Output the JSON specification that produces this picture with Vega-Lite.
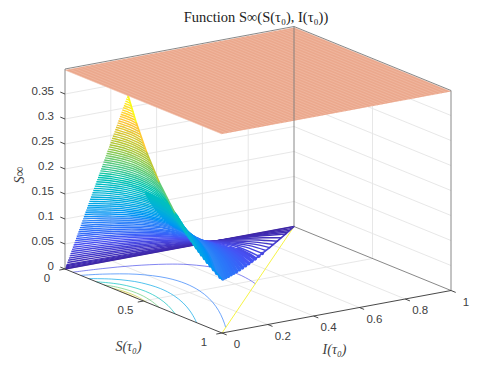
{"$schema":"https://vega.github.io/schema/vega-lite/v6.json","width":498,"height":374,"padding":0,"autosize":{"type":"none"},"config":{"view":{"stroke":null},"title":{"font":"Liberation Serif","fontSize":14.5,"fontWeight":"normal","color":"#222222"}},
"title":{"text":"Function S∞(S(τ₀), I(τ₀))","anchor":"middle","dx":7,"dy":29},
"datasets":{
"frame":[
{"k":"grid","S":0,"I":0,"z":0.05,"S2":0,"I2":1,"z2":0.05},{"k":"grid","S":0,"I":0,"z":0.1,"S2":0,"I2":1,"z2":0.1},{"k":"grid","S":0,"I":0,"z":0.15,"S2":0,"I2":1,"z2":0.15},{"k":"grid","S":0,"I":0,"z":0.2,"S2":0,"I2":1,"z2":0.2},{"k":"grid","S":0,"I":0,"z":0.25,"S2":0,"I2":1,"z2":0.25},{"k":"grid","S":0,"I":0,"z":0.3,"S2":0,"I2":1,"z2":0.3},{"k":"grid","S":0,"I":0,"z":0.35,"S2":0,"I2":1,"z2":0.35},
{"k":"grid","S":0,"I":1,"z":0.05,"S2":1,"I2":1,"z2":0.05},{"k":"grid","S":0,"I":1,"z":0.1,"S2":1,"I2":1,"z2":0.1},{"k":"grid","S":0,"I":1,"z":0.15,"S2":1,"I2":1,"z2":0.15},{"k":"grid","S":0,"I":1,"z":0.2,"S2":1,"I2":1,"z2":0.2},{"k":"grid","S":0,"I":1,"z":0.25,"S2":1,"I2":1,"z2":0.25},{"k":"grid","S":0,"I":1,"z":0.3,"S2":1,"I2":1,"z2":0.3},{"k":"grid","S":0,"I":1,"z":0.35,"S2":1,"I2":1,"z2":0.35},
{"k":"grid","S":0,"I":0.2,"z":0,"S2":0,"I2":0.2,"z2":0.4},{"k":"grid","S":0,"I":0.4,"z":0,"S2":0,"I2":0.4,"z2":0.4},{"k":"grid","S":0,"I":0.6,"z":0,"S2":0,"I2":0.6,"z2":0.4},{"k":"grid","S":0,"I":0.8,"z":0,"S2":0,"I2":0.8,"z2":0.4},{"k":"grid","S":0.5,"I":1,"z":0,"S2":0.5,"I2":1,"z2":0.4},
{"k":"grid","S":0,"I":0.2,"z":0,"S2":1,"I2":0.2,"z2":0},{"k":"grid","S":0,"I":0.4,"z":0,"S2":1,"I2":0.4,"z2":0},{"k":"grid","S":0,"I":0.6,"z":0,"S2":1,"I2":0.6,"z2":0},{"k":"grid","S":0,"I":0.8,"z":0,"S2":1,"I2":0.8,"z2":0},{"k":"grid","S":0.5,"I":0,"z":0,"S2":0.5,"I2":1,"z2":0},
{"k":"floorback","S":0,"I":0,"z":0,"S2":0,"I2":1,"z2":0},{"k":"floorback","S":0,"I":1,"z":0,"S2":1,"I2":1,"z2":0},
{"k":"yellow","S":1,"I":0,"z":0,"S2":0,"I2":1,"z2":0},
{"k":"box","S":0,"I":0,"z":0,"S2":0,"I2":0,"z2":0.4},{"k":"box","S":0,"I":1,"z":0,"S2":0,"I2":1,"z2":0.4},{"k":"box","S":1,"I":1,"z":0,"S2":1,"I2":1,"z2":0.4},
{"k":"box","S":0,"I":0,"z":0.4,"S2":0,"I2":1,"z2":0.4},{"k":"box","S":0,"I":1,"z":0.4,"S2":1,"I2":1,"z2":0.4},
{"k":"axis","S":0,"I":0,"z":0,"S2":1,"I2":0,"z2":0},{"k":"axis","S":1,"I":0,"z":0,"S2":1,"I2":1,"z2":0},
{"k":"axis","S":0,"I":0,"z":0,"S2":0,"I2":-0.025,"z2":0},{"k":"axis","S":0.5,"I":0,"z":0,"S2":0.5,"I2":-0.025,"z2":0},{"k":"axis","S":1,"I":0,"z":0,"S2":1,"I2":-0.025,"z2":0},
{"k":"axis","S":1,"I":0,"z":0,"S2":1.03,"I2":0,"z2":0},{"k":"axis","S":1,"I":0.2,"z":0,"S2":1.03,"I2":0.2,"z2":0},{"k":"axis","S":1,"I":0.4,"z":0,"S2":1.03,"I2":0.4,"z2":0},{"k":"axis","S":1,"I":0.6,"z":0,"S2":1.03,"I2":0.6,"z2":0},{"k":"axis","S":1,"I":0.8,"z":0,"S2":1.03,"I2":0.8,"z2":0},{"k":"axis","S":1,"I":1,"z":0,"S2":1.03,"I2":1,"z2":0},
{"k":"axis","S":0,"I":0,"z":0,"S2":-0.03,"I2":0,"z2":0},{"k":"axis","S":0,"I":0,"z":0.05,"S2":-0.03,"I2":0,"z2":0.05},{"k":"axis","S":0,"I":0,"z":0.1,"S2":-0.03,"I2":0,"z2":0.1},{"k":"axis","S":0,"I":0,"z":0.15,"S2":-0.03,"I2":0,"z2":0.15},{"k":"axis","S":0,"I":0,"z":0.2,"S2":-0.03,"I2":0,"z2":0.2},{"k":"axis","S":0,"I":0,"z":0.25,"S2":-0.03,"I2":0,"z2":0.25},{"k":"axis","S":0,"I":0,"z":0.3,"S2":-0.03,"I2":0,"z2":0.3},{"k":"axis","S":0,"I":0,"z":0.35,"S2":-0.03,"I2":0,"z2":0.35}
],
"edge":[
{"z":0.4,"S":0.4,"I":0,"z2":0.35,"S2":0.455,"I2":0},{"z":0.35,"S":0.455,"I":0,"z2":0.3,"S2":0.52,"I2":0},{"z":0.3,"S":0.52,"I":0,"z2":0.25,"S2":0.6,"I2":0},{"z":0.25,"S":0.6,"I":0,"z2":0.2,"S2":0.702,"I2":0},{"z":0.2,"S":0.702,"I":0,"z2":0.17,"S2":0.778,"I2":0},{"z":0.17,"S":0.778,"I":0,"z2":0.15,"S2":0.838,"I2":0},{"z":0.15,"S":0.838,"I":0,"z2":0.13,"S2":0.907,"I2":0},{"z":0.13,"S":0.907,"I":0,"z2":0.107,"S2":1,"I2":0},
{"z":0.107,"S":1,"I":0,"z2":0.1,"S2":0.9488,"I2":0.0512},{"z":0.1,"S":0.9488,"I":0.0512,"z2":0.09,"S2":0.875,"I2":0.125},{"z":0.09,"S":0.875,"I":0.125,"z2":0.08,"S2":0.798,"I2":0.202},{"z":0.08,"S":0.798,"I":0.202,"z2":0.07,"S2":0.716,"I2":0.284},{"z":0.07,"S":0.716,"I":0.284,"z2":0.06,"S2":0.629,"I2":0.371},{"z":0.06,"S":0.629,"I":0.371,"z2":0.05,"S2":0.5375,"I2":0.4625},{"z":0.05,"S":0.5375,"I":0.4625,"z2":0.04,"S2":0.441,"I2":0.559},{"z":0.04,"S":0.441,"I":0.559,"z2":0.03,"S2":0.339,"I2":0.661},{"z":0.03,"S":0.339,"I":0.661,"z2":0.02,"S2":0.2318,"I2":0.7682},{"z":0.02,"S":0.2318,"I":0.7682,"z2":0.01,"S2":0.1188,"I2":0.8812},{"z":0.01,"S":0.1188,"I":0.8812,"z2":0,"S2":0,"I2":1}
],
"planeEdge":[{"S":0,"I":0,"S2":0,"I2":0},{"S":0,"I":0.6856,"S2":1,"I2":0},{"S":0,"I":1,"S2":1,"I2":0.3144},{"S":1,"I":1,"S2":1,"I2":1}],
"plane":[{"I":0},{"I":0.02},{"I":0.04},{"I":0.06},{"I":0.08},{"I":0.1},{"I":0.12},{"I":0.14},{"I":0.16},{"I":0.18},{"I":0.2},{"I":0.22},{"I":0.24},{"I":0.26},{"I":0.28},{"I":0.3},{"I":0.32},{"I":0.34},{"I":0.36},{"I":0.38},{"I":0.4},{"I":0.42},{"I":0.44},{"I":0.46},{"I":0.48},{"I":0.5},{"I":0.52},{"I":0.54},{"I":0.56},{"I":0.58},{"I":0.6},{"I":0.62},{"I":0.64},{"I":0.66},{"I":0.68},{"I":0.7},{"I":0.72},{"I":0.74},{"I":0.76},{"I":0.78},{"I":0.8},{"I":0.82},{"I":0.84},{"I":0.86},{"I":0.88},{"I":0.9},{"I":0.92},{"I":0.94},{"I":0.96},{"I":0.98},{"I":1}],
"floor":[
{"L":0.05,"S":0.05,"I":0},{"L":0.05,"S":0.07,"I":0.1146},{"L":0.05,"S":0.1,"I":0.2273},{"L":0.05,"S":0.15,"I":0.3395},{"L":0.05,"S":0.2,"I":0.4045},{"L":0.05,"S":0.3,"I":0.4667},{"L":0.05,"S":0.4,"I":0.4818},{"L":0.05,"S":0.5,"I":0.471},{"L":0.05,"S":0.5375,"I":0.4625},
{"L":0.1,"S":0.1,"I":0},{"L":0.1,"S":0.13,"I":0.075},{"L":0.1,"S":0.2,"I":0.1772},{"L":0.1,"S":0.3,"I":0.2394},{"L":0.1,"S":0.4,"I":0.2545},{"L":0.1,"S":0.5,"I":0.2437},{"L":0.1,"S":0.6,"I":0.2167},{"L":0.1,"S":0.7,"I":0.1783},{"L":0.1,"S":0.8,"I":0.1317},{"L":0.1,"S":0.9,"I":0.0789},{"L":0.1,"S":0.9488,"I":0.0512},
{"L":0.15,"S":0.15,"I":0},{"L":0.15,"S":0.2,"I":0.065},{"L":0.15,"S":0.25,"I":0.1043},{"L":0.15,"S":0.3,"I":0.1272},{"L":0.15,"S":0.4,"I":0.1423},{"L":0.15,"S":0.5,"I":0.1315},{"L":0.15,"S":0.6,"I":0.1045},{"L":0.15,"S":0.7,"I":0.0661},{"L":0.15,"S":0.8,"I":0.0195},{"L":0.15,"S":0.838,"I":0},
{"L":0.2,"S":0.2,"I":0},{"L":0.2,"S":0.25,"I":0.0393},{"L":0.2,"S":0.3,"I":0.0622},{"L":0.2,"S":0.4,"I":0.0773},{"L":0.2,"S":0.5,"I":0.0665},{"L":0.2,"S":0.6,"I":0.0395},{"L":0.2,"S":0.702,"I":0},
{"L":0.25,"S":0.25,"I":0},{"L":0.25,"S":0.3,"I":0.0229},{"L":0.25,"S":0.4,"I":0.038},{"L":0.25,"S":0.5,"I":0.0272},{"L":0.25,"S":0.6,"I":0},
{"L":0.3,"S":0.3,"I":0},{"L":0.3,"S":0.35,"I":0.0117},{"L":0.3,"S":0.4,"I":0.0151},{"L":0.3,"S":0.45,"I":0.0122},{"L":0.3,"S":0.52,"I":0},
{"L":0.35,"S":0.35,"I":0},{"L":0.35,"S":0.4,"I":0.0034},{"L":0.35,"S":0.455,"I":0}
],
"surface":[
{"L":0,"S":0,"I":0},{"L":0,"S":0,"I":1},
{"L":0.0025,"S":0.0025,"I":0},{"L":0.0025,"S":0.01,"I":0.547},{"L":0.0025,"S":0.02,"I":0.8143},{"L":0.0025,"S":0.03,"I":0.9665},
{"L":0.005,"S":0.005,"I":0},{"L":0.005,"S":0.01,"I":0.2722},{"L":0.005,"S":0.02,"I":0.5395},{"L":0.005,"S":0.04,"I":0.7967},{"L":0.005,"S":0.06,"I":0.939},
{"L":0.0075,"S":0.0075,"I":0},{"L":0.0075,"S":0.01,"I":0.1126},{"L":0.0075,"S":0.02,"I":0.3799},{"L":0.0075,"S":0.04,"I":0.6371},{"L":0.0075,"S":0.06,"I":0.7794},{"L":0.0075,"S":0.0896,"I":0.9104},
{"L":0.01,"S":0.01,"I":0},{"L":0.01,"S":0.02,"I":0.2673},{"L":0.01,"S":0.03,"I":0.4195},{"L":0.01,"S":0.05,"I":0.6038},{"L":0.01,"S":0.07,"I":0.7184},{"L":0.01,"S":0.09,"I":0.7989},{"L":0.01,"S":0.11,"I":0.8592},{"L":0.01,"S":0.1188,"I":0.8812},
{"L":0.015,"S":0.015,"I":0},{"L":0.015,"S":0.02,"I":0.1101},{"L":0.015,"S":0.03,"I":0.2623},{"L":0.015,"S":0.05,"I":0.4466},{"L":0.015,"S":0.07,"I":0.5612},{"L":0.015,"S":0.1,"I":0.6739},{"L":0.015,"S":0.14,"I":0.7684},{"L":0.015,"S":0.176,"I":0.824},
{"L":0.02,"S":0.02,"I":0},{"L":0.02,"S":0.03,"I":0.1522},{"L":0.02,"S":0.05,"I":0.3365},{"L":0.02,"S":0.07,"I":0.4511},{"L":0.02,"S":0.1,"I":0.5638},{"L":0.02,"S":0.14,"I":0.6583},{"L":0.02,"S":0.18,"I":0.7189},{"L":0.02,"S":0.2318,"I":0.7682},
{"L":0.025,"S":0.025,"I":0},{"L":0.025,"S":0.03,"I":0.068},{"L":0.025,"S":0.05,"I":0.2523},{"L":0.025,"S":0.07,"I":0.3669},{"L":0.025,"S":0.1,"I":0.4796},{"L":0.025,"S":0.14,"I":0.5741},{"L":0.025,"S":0.2,"I":0.6568},{"L":0.025,"S":0.286,"I":0.714},
{"L":0.03,"S":0.03,"I":0},{"L":0.03,"S":0.05,"I":0.1843},{"L":0.03,"S":0.07,"I":0.2989},{"L":0.03,"S":0.1,"I":0.4116},{"L":0.03,"S":0.14,"I":0.5061},{"L":0.03,"S":0.2,"I":0.5888},{"L":0.03,"S":0.27,"I":0.6389},{"L":0.03,"S":0.339,"I":0.661},
{"L":0.035,"S":0.035,"I":0},{"L":0.035,"S":0.05,"I":0.1277},{"L":0.035,"S":0.07,"I":0.2423},{"L":0.035,"S":0.1,"I":0.355},{"L":0.035,"S":0.14,"I":0.4495},{"L":0.035,"S":0.2,"I":0.5322},{"L":0.035,"S":0.3,"I":0.5944},{"L":0.035,"S":0.39,"I":0.61},
{"L":0.04,"S":0.04,"I":0},{"L":0.04,"S":0.06,"I":0.1423},{"L":0.04,"S":0.08,"I":0.2373},{"L":0.04,"S":0.12,"I":0.3595},{"L":0.04,"S":0.17,"I":0.4488},{"L":0.04,"S":0.25,"I":0.5231},{"L":0.04,"S":0.34,"I":0.5561},{"L":0.04,"S":0.441,"I":0.559},
{"L":0.045,"S":0.045,"I":0},{"L":0.045,"S":0.06,"I":0.1001},{"L":0.045,"S":0.08,"I":0.1951},{"L":0.045,"S":0.12,"I":0.3173},{"L":0.045,"S":0.17,"I":0.4066},{"L":0.045,"S":0.25,"I":0.4809},{"L":0.045,"S":0.35,"I":0.5155},{"L":0.045,"S":0.49,"I":0.51},
{"L":0.05,"S":0.05,"I":0},{"L":0.05,"S":0.07,"I":0.1146},{"L":0.05,"S":0.1,"I":0.2273},{"L":0.05,"S":0.15,"I":0.3395},{"L":0.05,"S":0.2,"I":0.4045},{"L":0.05,"S":0.3,"I":0.4667},{"L":0.05,"S":0.4,"I":0.4818},{"L":0.05,"S":0.5,"I":0.471},{"L":0.05,"S":0.5375,"I":0.4625},
{"L":0.055,"S":0.055,"I":0},{"L":0.055,"S":0.07,"I":0.0815},{"L":0.055,"S":0.1,"I":0.1942},{"L":0.055,"S":0.15,"I":0.3064},{"L":0.055,"S":0.22,"I":0.3895},{"L":0.055,"S":0.3,"I":0.4336},{"L":0.055,"S":0.4,"I":0.4487},{"L":0.055,"S":0.5,"I":0.4379},{"L":0.055,"S":0.584,"I":0.416},
{"L":0.06,"S":0.06,"I":0},{"L":0.06,"S":0.08,"I":0.095},{"L":0.06,"S":0.11,"I":0.1924},{"L":0.06,"S":0.16,"I":0.2923},{"L":0.06,"S":0.22,"I":0.3596},{"L":0.06,"S":0.3,"I":0.4037},{"L":0.06,"S":0.4,"I":0.4188},{"L":0.06,"S":0.5,"I":0.408},{"L":0.06,"S":0.629,"I":0.371},
{"L":0.065,"S":0.065,"I":0},{"L":0.065,"S":0.08,"I":0.0681},{"L":0.065,"S":0.11,"I":0.1655},{"L":0.065,"S":0.16,"I":0.2654},{"L":0.065,"S":0.24,"I":0.3476},{"L":0.065,"S":0.32,"I":0.3826},{"L":0.065,"S":0.4,"I":0.3919},{"L":0.065,"S":0.5,"I":0.3811},{"L":0.065,"S":0.6,"I":0.3541},{"L":0.065,"S":0.673,"I":0.327},
{"L":0.07,"S":0.07,"I":0},{"L":0.07,"S":0.09,"I":0.0805},{"L":0.07,"S":0.12,"I":0.1656},{"L":0.07,"S":0.17,"I":0.2549},{"L":0.07,"S":0.24,"I":0.3229},{"L":0.07,"S":0.32,"I":0.3579},{"L":0.07,"S":0.4,"I":0.3672},{"L":0.07,"S":0.5,"I":0.3564},{"L":0.07,"S":0.6,"I":0.3294},{"L":0.07,"S":0.716,"I":0.284},
{"L":0.075,"S":0.075,"I":0},{"L":0.075,"S":0.09,"I":0.0579},{"L":0.075,"S":0.12,"I":0.143},{"L":0.075,"S":0.17,"I":0.2323},{"L":0.075,"S":0.25,"I":0.3066},{"L":0.075,"S":0.32,"I":0.3353},{"L":0.075,"S":0.4,"I":0.3446},{"L":0.075,"S":0.5,"I":0.3338},{"L":0.075,"S":0.6,"I":0.3068},{"L":0.075,"S":0.7,"I":0.2684},{"L":0.075,"S":0.7575,"I":0.2425},
{"L":0.08,"S":0.08,"I":0},{"L":0.08,"S":0.1,"I":0.0693},{"L":0.08,"S":0.13,"I":0.1442},{"L":0.08,"S":0.18,"I":0.2244},{"L":0.08,"S":0.25,"I":0.2858},{"L":0.08,"S":0.32,"I":0.3145},{"L":0.08,"S":0.4,"I":0.3238},{"L":0.08,"S":0.5,"I":0.313},{"L":0.08,"S":0.6,"I":0.286},{"L":0.08,"S":0.7,"I":0.2476},{"L":0.08,"S":0.798,"I":0.202},
{"L":0.085,"S":0.085,"I":0},{"L":0.085,"S":0.1,"I":0.05},{"L":0.085,"S":0.13,"I":0.1249},{"L":0.085,"S":0.18,"I":0.2051},{"L":0.085,"S":0.28,"I":0.2818},{"L":0.085,"S":0.4,"I":0.3045},{"L":0.085,"S":0.5,"I":0.2937},{"L":0.085,"S":0.6,"I":0.2667},{"L":0.085,"S":0.7,"I":0.2283},{"L":0.085,"S":0.8,"I":0.1817},{"L":0.085,"S":0.837,"I":0.163},
{"L":0.09,"S":0.09,"I":0},{"L":0.09,"S":0.11,"I":0.0603},{"L":0.09,"S":0.14,"I":0.1267},{"L":0.09,"S":0.2,"I":0.2094},{"L":0.09,"S":0.28,"I":0.264},{"L":0.09,"S":0.4,"I":0.2867},{"L":0.09,"S":0.5,"I":0.2759},{"L":0.09,"S":0.6,"I":0.2489},{"L":0.09,"S":0.7,"I":0.2105},{"L":0.09,"S":0.8,"I":0.1639},{"L":0.09,"S":0.875,"I":0.125},
{"L":0.095,"S":0.095,"I":0},{"L":0.095,"S":0.11,"I":0.0437},{"L":0.095,"S":0.14,"I":0.1101},{"L":0.095,"S":0.2,"I":0.1928},{"L":0.095,"S":0.28,"I":0.2515},{"L":0.095,"S":0.4,"I":0.2701},{"L":0.095,"S":0.5,"I":0.2593},{"L":0.095,"S":0.6,"I":0.2323},{"L":0.095,"S":0.7,"I":0.1939},{"L":0.095,"S":0.8,"I":0.1473},{"L":0.095,"S":0.913,"I":0.087},
{"L":0.1,"S":0.1,"I":0},{"L":0.1,"S":0.12,"I":0.0529},{"L":0.1,"S":0.15,"I":0.1122},{"L":0.1,"S":0.2,"I":0.1772},{"L":0.1,"S":0.28,"I":0.2318},{"L":0.1,"S":0.4,"I":0.2545},{"L":0.1,"S":0.5,"I":0.2437},{"L":0.1,"S":0.6,"I":0.2167},{"L":0.1,"S":0.7,"I":0.1783},{"L":0.1,"S":0.8,"I":0.1317},{"L":0.1,"S":0.9,"I":0.0789},{"L":0.1,"S":0.9488,"I":0.0512},
{"L":0.105,"S":0.105,"I":0},{"L":0.105,"S":0.12,"I":0.0384},{"L":0.105,"S":0.15,"I":0.0977},{"L":0.105,"S":0.2,"I":0.1627},{"L":0.105,"S":0.28,"I":0.2173},{"L":0.105,"S":0.4,"I":0.24},{"L":0.105,"S":0.5,"I":0.2292},{"L":0.105,"S":0.6,"I":0.2022},{"L":0.105,"S":0.7,"I":0.1638},{"L":0.105,"S":0.8,"I":0.1172},{"L":0.105,"S":0.9,"I":0.0644},{"L":0.105,"S":0.984,"I":0.016},
{"L":0.11,"S":0.11,"I":0},{"L":0.11,"S":0.13,"I":0.0468},{"L":0.11,"S":0.16,"I":0.0999},{"L":0.11,"S":0.21,"I":0.1586},{"L":0.11,"S":0.28,"I":0.2037},{"L":0.11,"S":0.4,"I":0.2264},{"L":0.11,"S":0.5,"I":0.2156},{"L":0.11,"S":0.6,"I":0.1886},{"L":0.11,"S":0.7,"I":0.1502},{"L":0.11,"S":0.8,"I":0.1036},{"L":0.11,"S":0.9,"I":0.0508},{"L":0.11,"S":0.988,"I":0},
{"L":0.115,"S":0.115,"I":0},{"L":0.115,"S":0.13,"I":0.034},{"L":0.115,"S":0.16,"I":0.0871},{"L":0.115,"S":0.21,"I":0.1458},{"L":0.115,"S":0.3,"I":0.1985},{"L":0.115,"S":0.4,"I":0.2136},{"L":0.115,"S":0.5,"I":0.2028},{"L":0.115,"S":0.6,"I":0.1758},{"L":0.115,"S":0.7,"I":0.1374},{"L":0.115,"S":0.8,"I":0.0908},{"L":0.115,"S":0.9,"I":0.038},{"L":0.115,"S":0.966,"I":0},
{"L":0.12,"S":0.12,"I":0},{"L":0.12,"S":0.14,"I":0.0416},{"L":0.12,"S":0.17,"I":0.0893},{"L":0.12,"S":0.22,"I":0.1424},{"L":0.12,"S":0.3,"I":0.1865},{"L":0.12,"S":0.4,"I":0.2016},{"L":0.12,"S":0.5,"I":0.1908},{"L":0.12,"S":0.6,"I":0.1638},{"L":0.12,"S":0.7,"I":0.1254},{"L":0.12,"S":0.8,"I":0.0788},{"L":0.12,"S":0.9,"I":0.026},{"L":0.12,"S":0.946,"I":0},
{"L":0.125,"S":0.125,"I":0},{"L":0.125,"S":0.14,"I":0.0303},{"L":0.125,"S":0.17,"I":0.078},{"L":0.125,"S":0.22,"I":0.1311},{"L":0.125,"S":0.3,"I":0.1752},{"L":0.125,"S":0.4,"I":0.1903},{"L":0.125,"S":0.5,"I":0.1795},{"L":0.125,"S":0.6,"I":0.1525},{"L":0.125,"S":0.7,"I":0.1141},{"L":0.125,"S":0.8,"I":0.0675},{"L":0.125,"S":0.9,"I":0.0147},{"L":0.125,"S":0.926,"I":0},
{"L":0.13,"S":0.13,"I":0},{"L":0.13,"S":0.15,"I":0.0373},{"L":0.13,"S":0.18,"I":0.0802},{"L":0.13,"S":0.23,"I":0.1282},{"L":0.13,"S":0.3,"I":0.1645},{"L":0.13,"S":0.4,"I":0.1796},{"L":0.13,"S":0.5,"I":0.1688},{"L":0.13,"S":0.6,"I":0.1418},{"L":0.13,"S":0.7,"I":0.1034},{"L":0.13,"S":0.8,"I":0.0568},{"L":0.13,"S":0.907,"I":0},
{"L":0.135,"S":0.135,"I":0},{"L":0.135,"S":0.15,"I":0.0272},{"L":0.135,"S":0.18,"I":0.0701},{"L":0.135,"S":0.23,"I":0.1181},{"L":0.135,"S":0.31,"I":0.1575},{"L":0.135,"S":0.4,"I":0.1695},{"L":0.135,"S":0.5,"I":0.1587},{"L":0.135,"S":0.6,"I":0.1317},{"L":0.135,"S":0.7,"I":0.0933},{"L":0.135,"S":0.8,"I":0.0467},{"L":0.135,"S":0.889,"I":0},
{"L":0.14,"S":0.14,"I":0},{"L":0.14,"S":0.16,"I":0.0335},{"L":0.14,"S":0.19,"I":0.0722},{"L":0.14,"S":0.24,"I":0.1157},{"L":0.14,"S":0.31,"I":0.148},{"L":0.14,"S":0.4,"I":0.16},{"L":0.14,"S":0.5,"I":0.1492},{"L":0.14,"S":0.6,"I":0.1222},{"L":0.14,"S":0.7,"I":0.0838},{"L":0.14,"S":0.8,"I":0.0372},{"L":0.14,"S":0.871,"I":0},
{"L":0.145,"S":0.145,"I":0},{"L":0.145,"S":0.16,"I":0.0244},{"L":0.145,"S":0.19,"I":0.0631},{"L":0.145,"S":0.24,"I":0.1066},{"L":0.145,"S":0.31,"I":0.1389},{"L":0.145,"S":0.4,"I":0.1509},{"L":0.145,"S":0.5,"I":0.1401},{"L":0.145,"S":0.6,"I":0.1131},{"L":0.145,"S":0.7,"I":0.0747},{"L":0.145,"S":0.8,"I":0.0281},{"L":0.145,"S":0.854,"I":0},
{"L":0.15,"S":0.15,"I":0},{"L":0.15,"S":0.17,"I":0.03},{"L":0.15,"S":0.2,"I":0.065},{"L":0.15,"S":0.25,"I":0.1043},{"L":0.15,"S":0.32,"I":0.133},{"L":0.15,"S":0.4,"I":0.1423},{"L":0.15,"S":0.5,"I":0.1315},{"L":0.15,"S":0.6,"I":0.1045},{"L":0.15,"S":0.7,"I":0.0661},{"L":0.15,"S":0.8,"I":0.0195},{"L":0.15,"S":0.838,"I":0},
{"L":0.155,"S":0.155,"I":0},{"L":0.155,"S":0.17,"I":0.0219},{"L":0.155,"S":0.2,"I":0.0569},{"L":0.155,"S":0.25,"I":0.0962},{"L":0.155,"S":0.32,"I":0.1249},{"L":0.155,"S":0.4,"I":0.1342},{"L":0.155,"S":0.5,"I":0.1234},{"L":0.155,"S":0.6,"I":0.0964},{"L":0.155,"S":0.7,"I":0.058},{"L":0.155,"S":0.8,"I":0.0114},{"L":0.155,"S":0.822,"I":0},
{"L":0.16,"S":0.16,"I":0},{"L":0.16,"S":0.18,"I":0.0271},{"L":0.16,"S":0.21,"I":0.0587},{"L":0.16,"S":0.26,"I":0.0942},{"L":0.16,"S":0.33,"I":0.1195},{"L":0.16,"S":0.4,"I":0.1265},{"L":0.16,"S":0.5,"I":0.1157},{"L":0.16,"S":0.6,"I":0.0887},{"L":0.16,"S":0.7,"I":0.0503},{"L":0.16,"S":0.807,"I":0},
{"L":0.165,"S":0.165,"I":0},{"L":0.165,"S":0.18,"I":0.0198},{"L":0.165,"S":0.21,"I":0.0514},{"L":0.165,"S":0.26,"I":0.0869},{"L":0.165,"S":0.33,"I":0.1122},{"L":0.165,"S":0.4,"I":0.1192},{"L":0.165,"S":0.5,"I":0.1084},{"L":0.165,"S":0.6,"I":0.0814},{"L":0.165,"S":0.7,"I":0.043},{"L":0.165,"S":0.793,"I":0},
{"L":0.17,"S":0.17,"I":0},{"L":0.17,"S":0.19,"I":0.0245},{"L":0.17,"S":0.22,"I":0.0531},{"L":0.17,"S":0.27,"I":0.0851},{"L":0.17,"S":0.34,"I":0.1073},{"L":0.17,"S":0.4,"I":0.1123},{"L":0.17,"S":0.5,"I":0.1015},{"L":0.17,"S":0.6,"I":0.0745},{"L":0.17,"S":0.7,"I":0.0361},{"L":0.17,"S":0.778,"I":0},
{"L":0.175,"S":0.175,"I":0},{"L":0.175,"S":0.19,"I":0.0179},{"L":0.175,"S":0.22,"I":0.0465},{"L":0.175,"S":0.27,"I":0.0785},{"L":0.175,"S":0.34,"I":0.1007},{"L":0.175,"S":0.4,"I":0.1057},{"L":0.175,"S":0.5,"I":0.0949},{"L":0.175,"S":0.6,"I":0.0679},{"L":0.175,"S":0.7,"I":0.0295},{"L":0.175,"S":0.765,"I":0},
{"L":0.18,"S":0.18,"I":0},{"L":0.18,"S":0.2,"I":0.0221},{"L":0.18,"S":0.23,"I":0.048},{"L":0.18,"S":0.28,"I":0.0767},{"L":0.18,"S":0.34,"I":0.0944},{"L":0.18,"S":0.4,"I":0.0994},{"L":0.18,"S":0.5,"I":0.0886},{"L":0.18,"S":0.6,"I":0.0616},{"L":0.18,"S":0.7,"I":0.0232},{"L":0.18,"S":0.75,"I":0},
{"L":0.185,"S":0.185,"I":0},{"L":0.185,"S":0.2,"I":0.0162},{"L":0.185,"S":0.23,"I":0.0421},{"L":0.185,"S":0.28,"I":0.0708},{"L":0.185,"S":0.35,"I":0.0901},{"L":0.185,"S":0.4,"I":0.0935},{"L":0.185,"S":0.5,"I":0.0827},{"L":0.185,"S":0.6,"I":0.0557},{"L":0.185,"S":0.7,"I":0.0173},{"L":0.185,"S":0.739,"I":0},
{"L":0.19,"S":0.19,"I":0},{"L":0.19,"S":0.21,"I":0.02},{"L":0.19,"S":0.24,"I":0.0435},{"L":0.19,"S":0.29,"I":0.0692},{"L":0.19,"S":0.35,"I":0.0844},{"L":0.19,"S":0.4,"I":0.0878},{"L":0.19,"S":0.5,"I":0.077},{"L":0.19,"S":0.6,"I":0.05},{"L":0.19,"S":0.7,"I":0.0116},{"L":0.19,"S":0.726,"I":0},
{"L":0.195,"S":0.195,"I":0},{"L":0.195,"S":0.21,"I":0.0146},{"L":0.195,"S":0.24,"I":0.0381},{"L":0.195,"S":0.29,"I":0.0638},{"L":0.195,"S":0.35,"I":0.079},{"L":0.195,"S":0.4,"I":0.0824},{"L":0.195,"S":0.5,"I":0.0716},{"L":0.195,"S":0.6,"I":0.0446},{"L":0.195,"S":0.7,"I":0.0062},{"L":0.195,"S":0.714,"I":0},
{"L":0.2,"S":0.2,"I":0},{"L":0.2,"S":0.22,"I":0.0181},{"L":0.2,"S":0.25,"I":0.0393},{"L":0.2,"S":0.3,"I":0.0622},{"L":0.2,"S":0.35,"I":0.0739},{"L":0.2,"S":0.4,"I":0.0773},{"L":0.2,"S":0.5,"I":0.0665},{"L":0.2,"S":0.6,"I":0.0395},{"L":0.2,"S":0.702,"I":0},
{"L":0.205,"S":0.205,"I":0},{"L":0.205,"S":0.22,"I":0.0132},{"L":0.205,"S":0.25,"I":0.0344},{"L":0.205,"S":0.3,"I":0.0573},{"L":0.205,"S":0.35,"I":0.069},{"L":0.205,"S":0.4,"I":0.0724},{"L":0.205,"S":0.5,"I":0.0616},{"L":0.205,"S":0.6,"I":0.0346},{"L":0.205,"S":0.691,"I":0},
{"L":0.21,"S":0.21,"I":0},{"L":0.21,"S":0.23,"I":0.0164},{"L":0.21,"S":0.26,"I":0.0355},{"L":0.21,"S":0.3,"I":0.0527},{"L":0.21,"S":0.35,"I":0.0644},{"L":0.21,"S":0.4,"I":0.0678},{"L":0.21,"S":0.5,"I":0.057},{"L":0.21,"S":0.6,"I":0.03},{"L":0.21,"S":0.68,"I":0},
{"L":0.215,"S":0.215,"I":0},{"L":0.215,"S":0.23,"I":0.0119},{"L":0.215,"S":0.26,"I":0.031},{"L":0.215,"S":0.3,"I":0.0482},{"L":0.215,"S":0.35,"I":0.0599},{"L":0.215,"S":0.4,"I":0.0633},{"L":0.215,"S":0.5,"I":0.0525},{"L":0.215,"S":0.6,"I":0.0255},{"L":0.215,"S":0.668,"I":0},
{"L":0.22,"S":0.22,"I":0},{"L":0.22,"S":0.24,"I":0.0149},{"L":0.22,"S":0.27,"I":0.032},{"L":0.22,"S":0.32,"I":0.0499},{"L":0.22,"S":0.4,"I":0.0592},{"L":0.22,"S":0.5,"I":0.0484},{"L":0.22,"S":0.6,"I":0.0214},{"L":0.22,"S":0.659,"I":0},
{"L":0.225,"S":0.225,"I":0},{"L":0.225,"S":0.24,"I":0.0109},{"L":0.225,"S":0.27,"I":0.028},{"L":0.225,"S":0.32,"I":0.0459},{"L":0.225,"S":0.4,"I":0.0552},{"L":0.225,"S":0.5,"I":0.0444},{"L":0.225,"S":0.6,"I":0.0174},{"L":0.225,"S":0.648,"I":0},
{"L":0.23,"S":0.23,"I":0},{"L":0.23,"S":0.25,"I":0.0134},{"L":0.23,"S":0.28,"I":0.0287},{"L":0.23,"S":0.33,"I":0.0444},{"L":0.23,"S":0.4,"I":0.0514},{"L":0.23,"S":0.5,"I":0.0406},{"L":0.23,"S":0.6,"I":0.0136},{"L":0.23,"S":0.638,"I":0},
{"L":0.235,"S":0.235,"I":0},{"L":0.235,"S":0.25,"I":0.0098},{"L":0.235,"S":0.28,"I":0.0251},{"L":0.235,"S":0.33,"I":0.0408},{"L":0.235,"S":0.4,"I":0.0478},{"L":0.235,"S":0.5,"I":0.037},{"L":0.235,"S":0.6,"I":0.01},{"L":0.235,"S":0.628,"I":0},
{"L":0.24,"S":0.24,"I":0},{"L":0.24,"S":0.26,"I":0.012},{"L":0.24,"S":0.29,"I":0.0257},{"L":0.24,"S":0.34,"I":0.0393},{"L":0.24,"S":0.4,"I":0.0443},{"L":0.24,"S":0.5,"I":0.0335},{"L":0.24,"S":0.6,"I":0.0065},{"L":0.24,"S":0.618,"I":0},
{"L":0.245,"S":0.245,"I":0},{"L":0.245,"S":0.26,"I":0.0088},{"L":0.245,"S":0.29,"I":0.0225},{"L":0.245,"S":0.34,"I":0.0361},{"L":0.245,"S":0.4,"I":0.0411},{"L":0.245,"S":0.5,"I":0.0303},{"L":0.245,"S":0.6,"I":0.0033},{"L":0.245,"S":0.609,"I":0},
{"L":0.25,"S":0.25,"I":0},{"L":0.25,"S":0.27,"I":0.0108},{"L":0.25,"S":0.3,"I":0.0229},{"L":0.25,"S":0.35,"I":0.0346},{"L":0.25,"S":0.4,"I":0.038},{"L":0.25,"S":0.5,"I":0.0272},{"L":0.25,"S":0.6,"I":0},
{"L":0.255,"S":0.255,"I":0},{"L":0.255,"S":0.27,"I":0.0079},{"L":0.255,"S":0.3,"I":0.02},{"L":0.255,"S":0.35,"I":0.0317},{"L":0.255,"S":0.4,"I":0.0351},{"L":0.255,"S":0.5,"I":0.0243},{"L":0.255,"S":0.591,"I":0},
{"L":0.26,"S":0.26,"I":0},{"L":0.26,"S":0.28,"I":0.0096},{"L":0.26,"S":0.31,"I":0.0203},{"L":0.26,"S":0.35,"I":0.0289},{"L":0.26,"S":0.4,"I":0.0323},{"L":0.26,"S":0.5,"I":0.0215},{"L":0.26,"S":0.582,"I":0},
{"L":0.265,"S":0.265,"I":0},{"L":0.265,"S":0.28,"I":0.007},{"L":0.265,"S":0.31,"I":0.0177},{"L":0.265,"S":0.35,"I":0.0263},{"L":0.265,"S":0.4,"I":0.0297},{"L":0.265,"S":0.5,"I":0.0189},{"L":0.265,"S":0.573,"I":0},
{"L":0.27,"S":0.27,"I":0},{"L":0.27,"S":0.29,"I":0.0086},{"L":0.27,"S":0.32,"I":0.0179},{"L":0.27,"S":0.36,"I":0.025},{"L":0.27,"S":0.4,"I":0.0272},{"L":0.27,"S":0.5,"I":0.0164},{"L":0.27,"S":0.565,"I":0},
{"L":0.275,"S":0.275,"I":0},{"L":0.275,"S":0.29,"I":0.0063},{"L":0.275,"S":0.32,"I":0.0156},{"L":0.275,"S":0.36,"I":0.0227},{"L":0.275,"S":0.4,"I":0.0249},{"L":0.275,"S":0.5,"I":0.0141},{"L":0.275,"S":0.558,"I":0},
{"L":0.28,"S":0.28,"I":0},{"L":0.28,"S":0.3,"I":0.0076},{"L":0.28,"S":0.33,"I":0.0157},{"L":0.28,"S":0.37,"I":0.0215},{"L":0.28,"S":0.4,"I":0.0227},{"L":0.28,"S":0.5,"I":0.0119},{"L":0.28,"S":0.55,"I":0},
{"L":0.285,"S":0.285,"I":0},{"L":0.285,"S":0.3,"I":0.0055},{"L":0.285,"S":0.33,"I":0.0136},{"L":0.285,"S":0.37,"I":0.0194},{"L":0.285,"S":0.4,"I":0.0206},{"L":0.285,"S":0.5,"I":0.0098},{"L":0.285,"S":0.541,"I":0},
{"L":0.29,"S":0.29,"I":0},{"L":0.29,"S":0.31,"I":0.0066},{"L":0.29,"S":0.34,"I":0.0136},{"L":0.29,"S":0.4,"I":0.0186},{"L":0.29,"S":0.45,"I":0.0157},{"L":0.29,"S":0.5,"I":0.0078},{"L":0.29,"S":0.533,"I":0},
{"L":0.295,"S":0.295,"I":0},{"L":0.295,"S":0.31,"I":0.0048},{"L":0.295,"S":0.34,"I":0.0118},{"L":0.295,"S":0.4,"I":0.0168},{"L":0.295,"S":0.45,"I":0.0139},{"L":0.295,"S":0.5,"I":0.006},{"L":0.295,"S":0.525,"I":0},
{"L":0.3,"S":0.3,"I":0},{"L":0.3,"S":0.32,"I":0.0058},{"L":0.3,"S":0.35,"I":0.0117},{"L":0.3,"S":0.4,"I":0.0151},{"L":0.3,"S":0.45,"I":0.0122},{"L":0.3,"S":0.52,"I":0},
{"L":0.305,"S":0.305,"I":0},{"L":0.305,"S":0.32,"I":0.0042},{"L":0.305,"S":0.35,"I":0.0101},{"L":0.305,"S":0.4,"I":0.0135},{"L":0.305,"S":0.45,"I":0.0106},{"L":0.305,"S":0.511,"I":0},
{"L":0.31,"S":0.31,"I":0},{"L":0.31,"S":0.33,"I":0.005},{"L":0.31,"S":0.36,"I":0.0098},{"L":0.31,"S":0.4,"I":0.012},{"L":0.31,"S":0.45,"I":0.0091},{"L":0.31,"S":0.505,"I":0},
{"L":0.315,"S":0.315,"I":0},{"L":0.315,"S":0.33,"I":0.0036},{"L":0.315,"S":0.36,"I":0.0084},{"L":0.315,"S":0.4,"I":0.0106},{"L":0.315,"S":0.45,"I":0.0077},{"L":0.315,"S":0.499,"I":0},
{"L":0.32,"S":0.32,"I":0},{"L":0.32,"S":0.34,"I":0.0043},{"L":0.32,"S":0.37,"I":0.0081},{"L":0.32,"S":0.4,"I":0.0093},{"L":0.32,"S":0.45,"I":0.0064},{"L":0.32,"S":0.49,"I":0},
{"L":0.325,"S":0.325,"I":0},{"L":0.325,"S":0.35,"I":0.0047},{"L":0.325,"S":0.38,"I":0.0076},{"L":0.325,"S":0.4,"I":0.0081},{"L":0.325,"S":0.45,"I":0.0052},{"L":0.325,"S":0.484,"I":0},
{"L":0.33,"S":0.33,"I":0},{"L":0.33,"S":0.35,"I":0.0036},{"L":0.33,"S":0.38,"I":0.0065},{"L":0.33,"S":0.4,"I":0.007},{"L":0.33,"S":0.45,"I":0.0041},{"L":0.33,"S":0.477,"I":0},
{"L":0.335,"S":0.335,"I":0},{"L":0.335,"S":0.36,"I":0.0037},{"L":0.335,"S":0.39,"I":0.0058},{"L":0.335,"S":0.42,"I":0.0054},{"L":0.335,"S":0.47,"I":0},
{"L":0.34,"S":0.34,"I":0},{"L":0.34,"S":0.36,"I":0.0028},{"L":0.34,"S":0.39,"I":0.0049},{"L":0.34,"S":0.42,"I":0.0045},{"L":0.34,"S":0.465,"I":0},
{"L":0.345,"S":0.345,"I":0},{"L":0.345,"S":0.37,"I":0.003},{"L":0.345,"S":0.4,"I":0.0042},{"L":0.345,"S":0.458,"I":0},
{"L":0.35,"S":0.35,"I":0},{"L":0.35,"S":0.38,"I":0.0029},{"L":0.35,"S":0.4,"I":0.0034},{"L":0.35,"S":0.455,"I":0},
{"L":0.355,"S":0.355,"I":0},{"L":0.355,"S":0.38,"I":0.0022},{"L":0.355,"S":0.4,"I":0.0027},{"L":0.355,"S":0.447,"I":0},
{"L":0.36,"S":0.36,"I":0},{"L":0.36,"S":0.38,"I":0.0017},{"L":0.36,"S":0.4,"I":0.0022},{"L":0.36,"S":0.445,"I":0},
{"L":0.365,"S":0.365,"I":0},{"L":0.365,"S":0.39,"I":0.0016},{"L":0.365,"S":0.4,"I":0.0017},{"L":0.365,"S":0.44,"I":0},
{"L":0.37,"S":0.37,"I":0},{"L":0.37,"S":0.39,"I":0.0011},{"L":0.37,"S":0.4,"I":0.0012},{"L":0.37,"S":0.435,"I":0},
{"L":0.375,"S":0.375,"I":0},{"L":0.375,"S":0.4,"I":0.0008},{"L":0.375,"S":0.429,"I":0},
{"L":0.38,"S":0.38,"I":0},{"L":0.38,"S":0.4,"I":0.0005},{"L":0.38,"S":0.422,"I":0},
{"L":0.385,"S":0.385,"I":0},{"L":0.385,"S":0.4,"I":0.0003},{"L":0.385,"S":0.415,"I":0},
{"L":0.39,"S":0.39,"I":0},{"L":0.39,"S":0.4,"I":0.0001},{"L":0.39,"S":0.411,"I":0},
{"L":0.395,"S":0.395,"I":0},{"L":0.395,"S":0.4,"I":0.0001},{"L":0.395,"S":0.405,"I":0}
],
"labels":[
{"a":"z","t":"0","S":0,"I":0,"z":0},{"a":"z","t":"0.05","S":0,"I":0,"z":0.05},{"a":"z","t":"0.1","S":0,"I":0,"z":0.1},{"a":"z","t":"0.15","S":0,"I":0,"z":0.15},{"a":"z","t":"0.2","S":0,"I":0,"z":0.2},{"a":"z","t":"0.25","S":0,"I":0,"z":0.25},{"a":"z","t":"0.3","S":0,"I":0,"z":0.3},{"a":"z","t":"0.35","S":0,"I":0,"z":0.35},
{"a":"s","t":"0","S":0,"I":0,"z":0},{"a":"s","t":"0.5","S":0.5,"I":0,"z":0},{"a":"s","t":"1","S":1,"I":0,"z":0},
{"a":"i","t":"0","S":1,"I":0,"z":0},{"a":"i","t":"0.2","S":1,"I":0.2,"z":0},{"a":"i","t":"0.4","S":1,"I":0.4,"z":0},{"a":"i","t":"0.6","S":1,"I":0.6,"z":0},{"a":"i","t":"0.8","S":1,"I":0.8,"z":0},{"a":"i","t":"1","S":1,"I":1,"z":0},
{"a":"ts","t":"S(τ₀)","S":0.5,"I":0,"z":0},{"a":"ti","t":"I(τ₀)","S":1,"I":0.5,"z":0},{"a":"tz","t":"S∞","S":0,"I":0,"z":0.2}
]},
"layer":[
{"data":{"name":"frame"},"transform":[{"filter":"datum.k=='grid'"},{"calculate":"65+157*datum.S+229*datum.I","as":"px"},{"calculate":"269+64*datum.S-42.5*datum.I-500*datum.z","as":"py"},{"calculate":"65+157*datum.S2+229*datum.I2","as":"px2"},{"calculate":"269+64*datum.S2-42.5*datum.I2-500*datum.z2","as":"py2"}],"mark":{"type":"rule","color":"#e4e4e4","strokeWidth":0.9},"encoding":{"x":{"field":"px","type":"quantitative","scale":null,"axis":null},"y":{"field":"py","type":"quantitative","scale":null,"axis":null},"x2":{"field":"px2"},"y2":{"field":"py2"}}},
{"data":{"name":"frame"},"transform":[{"filter":"datum.k=='floorback'"},{"calculate":"65+157*datum.S+229*datum.I","as":"px"},{"calculate":"269+64*datum.S-42.5*datum.I-500*datum.z","as":"py"},{"calculate":"65+157*datum.S2+229*datum.I2","as":"px2"},{"calculate":"269+64*datum.S2-42.5*datum.I2-500*datum.z2","as":"py2"}],"mark":{"type":"rule","color":"#7a7a7a","strokeWidth":0.9},"encoding":{"x":{"field":"px","type":"quantitative","scale":null,"axis":null},"y":{"field":"py","type":"quantitative","scale":null,"axis":null},"x2":{"field":"px2"},"y2":{"field":"py2"}}},
{"data":{"name":"floor"},"transform":[{"calculate":"65+157*datum.S+229*datum.I","as":"px"},{"calculate":"269+64*datum.S-42.5*datum.I","as":"py"}],"mark":{"type":"line","interpolate":"catmull-rom","strokeWidth":0.8,"opacity":0.85},"encoding":{"x":{"field":"px","type":"quantitative","scale":null,"axis":null},"y":{"field":"py","type":"quantitative","scale":null,"axis":null},"detail":{"field":"L"},"order":{"field":"S"},"color":{"field":"L","type":"quantitative","legend":null,"scale":{"domain":[0,0.0571,0.1143,0.1714,0.2286,0.2857,0.3429,0.4],"range":["#3e26a8","#4752f4","#2e87f7","#12b1d6","#37c897","#abc739","#fec338","#f9fb15"]}}}},
{"data":{"name":"frame"},"transform":[{"filter":"datum.k=='yellow'"},{"calculate":"65+157*datum.S+229*datum.I","as":"px"},{"calculate":"269+64*datum.S-42.5*datum.I-500*datum.z","as":"py"},{"calculate":"65+157*datum.S2+229*datum.I2","as":"px2"},{"calculate":"269+64*datum.S2-42.5*datum.I2-500*datum.z2","as":"py2"}],"mark":{"type":"rule","color":"#f7f445","strokeWidth":1},"encoding":{"x":{"field":"px","type":"quantitative","scale":null,"axis":null},"y":{"field":"py","type":"quantitative","scale":null,"axis":null},"x2":{"field":"px2"},"y2":{"field":"py2"}}},
{"data":{"name":"surface"},"transform":[{"calculate":"65+157*datum.S+229*datum.I","as":"px"},{"calculate":"269+64*datum.S-42.5*datum.I-500*datum.L","as":"py"}],"mark":{"type":"line","interpolate":"catmull-rom","strokeWidth":1.4},"encoding":{"x":{"field":"px","type":"quantitative","scale":null,"axis":null},"y":{"field":"py","type":"quantitative","scale":null,"axis":null},"detail":{"field":"L"},"order":{"field":"S"},"color":{"field":"L","type":"quantitative","legend":null,"scale":{"domain":[0,0.0571,0.1143,0.1714,0.2286,0.2857,0.3429,0.4],"range":["#3e26a8","#4752f4","#2e87f7","#12b1d6","#37c897","#abc739","#fec338","#f9fb15"]}}}},
{"data":{"name":"surface"},"transform":[{"filter":"datum.S>=0.4 && datum.L<0.2"},{"calculate":"65+157*datum.S+229*datum.I","as":"px"},{"calculate":"269+64*datum.S-42.5*datum.I-500*datum.L","as":"py"}],"mark":{"type":"line","interpolate":"catmull-rom","strokeWidth":3.6,"strokeCap":"round"},"encoding":{"x":{"field":"px","type":"quantitative","scale":null,"axis":null},"y":{"field":"py","type":"quantitative","scale":null,"axis":null},"detail":{"field":"L"},"order":{"field":"S"},"color":{"field":"L","type":"quantitative","legend":null,"scale":{"domain":[0,0.0571,0.1143,0.1714,0.2286,0.2857,0.3429,0.4],"range":["#3e26a8","#4752f4","#2e87f7","#12b1d6","#37c897","#abc739","#fec338","#f9fb15"]}}}},
{"data":{"name":"edge"},"transform":[{"calculate":"65+157*datum.S+229*datum.I","as":"px"},{"calculate":"269+64*datum.S-42.5*datum.I-500*datum.z","as":"py"},{"calculate":"65+157*datum.S2+229*datum.I2","as":"px2"},{"calculate":"269+64*datum.S2-42.5*datum.I2-500*datum.z2","as":"py2"}],"mark":{"type":"rule","strokeWidth":1.6,"strokeCap":"round"},"encoding":{"x":{"field":"px","type":"quantitative","scale":null,"axis":null},"y":{"field":"py","type":"quantitative","scale":null,"axis":null},"x2":{"field":"px2"},"y2":{"field":"py2"},"color":{"field":"z","type":"quantitative","legend":null,"scale":{"domain":[0,0.0571,0.1143,0.1714,0.2286,0.2857,0.3429,0.4],"range":["#3e26a8","#4752f4","#2e87f7","#12b1d6","#37c897","#abc739","#fec338","#f9fb15"]}}}},
{"data":{"name":"planeEdge"},"transform":[{"calculate":"65+157*datum.S+229*datum.I","as":"px"},{"calculate":"70+64*datum.S-42.5*datum.I","as":"py"},{"calculate":"70+64*datum.S2-42.5*datum.I2","as":"py2"}],"mark":{"type":"area","color":"#eba88d"},"encoding":{"x":{"field":"px","type":"quantitative","scale":null,"axis":null},"y":{"field":"py","type":"quantitative","scale":null,"axis":null},"y2":{"field":"py2"}}},
{"data":{"name":"plane"},"transform":[{"calculate":"65+229*datum.I","as":"px"},{"calculate":"70-42.5*datum.I","as":"py"},{"calculate":"222+229*datum.I","as":"px2"},{"calculate":"134-42.5*datum.I","as":"py2"}],"mark":{"type":"rule","color":"#f2bfaa","strokeWidth":0.6},"encoding":{"x":{"field":"px","type":"quantitative","scale":null,"axis":null},"y":{"field":"py","type":"quantitative","scale":null,"axis":null},"x2":{"field":"px2"},"y2":{"field":"py2"}}},
{"data":{"name":"frame"},"transform":[{"filter":"datum.k=='box'"},{"calculate":"65+157*datum.S+229*datum.I","as":"px"},{"calculate":"269+64*datum.S-42.5*datum.I-500*datum.z","as":"py"},{"calculate":"65+157*datum.S2+229*datum.I2","as":"px2"},{"calculate":"269+64*datum.S2-42.5*datum.I2-500*datum.z2","as":"py2"}],"mark":{"type":"rule","color":"#7a7a7a","strokeWidth":0.9},"encoding":{"x":{"field":"px","type":"quantitative","scale":null,"axis":null},"y":{"field":"py","type":"quantitative","scale":null,"axis":null},"x2":{"field":"px2"},"y2":{"field":"py2"}}},
{"data":{"name":"frame"},"transform":[{"filter":"datum.k=='axis'"},{"calculate":"65+157*datum.S+229*datum.I","as":"px"},{"calculate":"269+64*datum.S-42.5*datum.I-500*datum.z","as":"py"},{"calculate":"65+157*datum.S2+229*datum.I2","as":"px2"},{"calculate":"269+64*datum.S2-42.5*datum.I2-500*datum.z2","as":"py2"}],"mark":{"type":"rule","color":"#333333","strokeWidth":0.9},"encoding":{"x":{"field":"px","type":"quantitative","scale":null,"axis":null},"y":{"field":"py","type":"quantitative","scale":null,"axis":null},"x2":{"field":"px2"},"y2":{"field":"py2"}}},
{"data":{"name":"labels"},"transform":[{"filter":"datum.a=='z'"},{"calculate":"65+157*datum.S+229*datum.I","as":"px"},{"calculate":"269+64*datum.S-42.5*datum.I-500*datum.z","as":"py"}],"mark":{"type":"text","font":"Liberation Sans","fontSize":11.5,"color":"#404040","align":"right","baseline":"middle","dx":-11,"dy":-2},"encoding":{"x":{"field":"px","type":"quantitative","scale":null,"axis":null},"y":{"field":"py","type":"quantitative","scale":null,"axis":null},"text":{"field":"t"}}},
{"data":{"name":"labels"},"transform":[{"filter":"datum.a=='s'"},{"calculate":"65+157*datum.S+229*datum.I","as":"px"},{"calculate":"269+64*datum.S-42.5*datum.I-500*datum.z","as":"py"}],"mark":{"type":"text","font":"Liberation Sans","fontSize":11.5,"color":"#404040","align":"center","baseline":"middle","dx":-18,"dy":10},"encoding":{"x":{"field":"px","type":"quantitative","scale":null,"axis":null},"y":{"field":"py","type":"quantitative","scale":null,"axis":null},"text":{"field":"t"}}},
{"data":{"name":"labels"},"transform":[{"filter":"datum.a=='i'"},{"calculate":"65+157*datum.S+229*datum.I","as":"px"},{"calculate":"269+64*datum.S-42.5*datum.I-500*datum.z","as":"py"}],"mark":{"type":"text","font":"Liberation Sans","fontSize":11.5,"color":"#404040","align":"center","baseline":"middle","dx":15,"dy":12},"encoding":{"x":{"field":"px","type":"quantitative","scale":null,"axis":null},"y":{"field":"py","type":"quantitative","scale":null,"axis":null},"text":{"field":"t"}}},
{"data":{"name":"labels"},"transform":[{"filter":"datum.a=='ts'"},{"calculate":"65+157*datum.S+229*datum.I","as":"px"},{"calculate":"269+64*datum.S-42.5*datum.I-500*datum.z","as":"py"}],"mark":{"type":"text","font":"Liberation Serif","fontStyle":"italic","fontSize":14,"color":"#404040","align":"center","baseline":"middle","dx":-15,"dy":46},"encoding":{"x":{"field":"px","type":"quantitative","scale":null,"axis":null},"y":{"field":"py","type":"quantitative","scale":null,"axis":null},"text":{"field":"t"}}},
{"data":{"name":"labels"},"transform":[{"filter":"datum.a=='ti'"},{"calculate":"65+157*datum.S+229*datum.I","as":"px"},{"calculate":"269+64*datum.S-42.5*datum.I-500*datum.z","as":"py"}],"mark":{"type":"text","font":"Liberation Serif","fontStyle":"italic","fontSize":14,"color":"#404040","align":"center","baseline":"middle","dx":-2,"dy":38},"encoding":{"x":{"field":"px","type":"quantitative","scale":null,"axis":null},"y":{"field":"py","type":"quantitative","scale":null,"axis":null},"text":{"field":"t"}}},
{"data":{"name":"labels"},"transform":[{"filter":"datum.a=='tz'"},{"calculate":"65+157*datum.S+229*datum.I","as":"px"},{"calculate":"269+64*datum.S-42.5*datum.I-500*datum.z","as":"py"}],"mark":{"type":"text","font":"Liberation Serif","fontStyle":"italic","fontSize":14,"color":"#404040","align":"center","baseline":"middle","angle":270,"dx":-6,"dy":-45},"encoding":{"x":{"field":"px","type":"quantitative","scale":null,"axis":null},"y":{"field":"py","type":"quantitative","scale":null,"axis":null},"text":{"field":"t"}}}
]}
